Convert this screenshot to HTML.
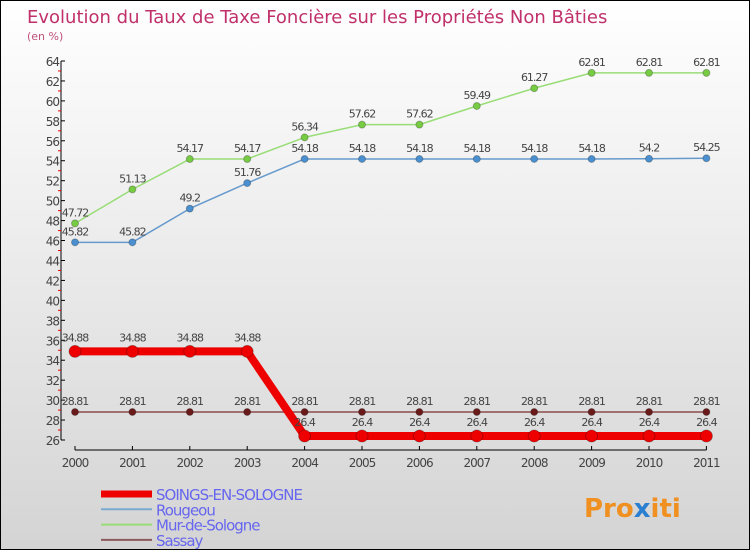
<!DOCTYPE html>
<html><head><meta charset="utf-8"><style>
body{margin:0}
#wrap{position:relative;width:748px;height:548px;border:1px solid #000;background:linear-gradient(#ffffff,#d4d4d4);overflow:hidden;font-family:"DejaVu Sans","Liberation Sans",sans-serif}
</style></head><body>
<div id="wrap">
<svg id="chart" width="748" height="548"></svg>
</div>
<script>
const years=['2000','2001','2002','2003','2004','2005','2006','2007','2008','2009','2010','2011'];
const soings=[34.88,34.88,34.88,34.88,26.4,26.4,26.4,26.4,26.4,26.4,26.4,26.4];
const rougeou=[45.82,45.82,49.2,51.76,54.18,54.18,54.18,54.18,54.18,54.18,54.2,54.25];
const mur=[47.72,51.13,54.17,54.17,56.34,57.62,57.62,59.49,61.27,62.81,62.81,62.81];
const sassay=[28.81,28.81,28.81,28.81,28.81,28.81,28.81,28.81,28.81,28.81,28.81,28.81];
const yTicks=[26,28,30,32,34,36,38,40,42,44,46,48,50,52,54,56,58,60,62,64];
const NS='http://www.w3.org/2000/svg';
const svg=document.getElementById('chart');
function yS(v){return 439-(v-26)*(379/38);}
function xS(i){return 74+i*57.4;}
function el(tag,attrs,parent){const e=document.createElementNS(NS,tag);for(const k in attrs)e.setAttribute(k,attrs[k]);(parent||svg).appendChild(e);return e;}
function txt(x,y,s,attrs){const t=el('text',Object.assign({x:x,y:y},attrs||{}));t.textContent=s;return t;}
// title
let t=txt(26,22,'Evolution du Taux de Taxe Foncière sur les Propriétés Non Bâties',{fill:'#c0306a','font-size':'18'});


t=txt(26,39,'(en %)',{fill:'#c0507a','font-size':'11'});


// y axis
let a=el('line',{x1:60,y1:yS(64),x2:60,y2:yS(26),stroke:'#000','stroke-width':1});


yTicks.forEach((v,i)=>{
  el('line',{x1:60,y1:yS(v),x2:64,y2:yS(v),stroke:'#000'});
  if(i<yTicks.length-1)el('line',{x1:57,y1:yS(v+1),x2:60,y2:yS(v+1),stroke:'#e00'});
  const l=txt(58,yS(v)+5,String(v),{fill:'#444','font-size':'12','text-anchor':'end','letter-spacing':'-1'});
  
  
});
// x axis
a=el('line',{x1:74,y1:449,x2:xS(11),y2:449,stroke:'#000'});


years.forEach((y,i)=>{
  el('line',{x1:xS(i),y1:445,x2:xS(i),y2:449,stroke:'#000'});
  const l=txt(xS(i),466,y,{fill:'#444','font-size':'12','text-anchor':'middle','letter-spacing':'-1'});
  
  
});
function series(vals,color,w,r,name,dotColor,labelDy){
  const g=el('g',{});
  
  
  el('polyline',{points:vals.map((v,i)=>xS(i)+','+yS(v)).join(' '),fill:'none',stroke:color,'stroke-width':w,'stroke-linejoin':'round'},g);
  vals.forEach((v,i)=>{
    const c=el('circle',{cx:xS(i),cy:yS(v),r:r,fill:dotColor,stroke:'#00000040'},g);
    
    
    const l=txt(xS(i),yS(v)+labelDy,String(v),{fill:'#444','font-size':'11','text-anchor':'middle','letter-spacing':'-1'},);
    g.appendChild(l);
    
    
  });
}
series(sassay,'#8b4a4a',1.5,3.5,'sassay','#6b1a1a',-7);
series(rougeou,'#6699cc',1.5,3.5,'rougeou','#4a90d0',-7);
series(mur,'#99dd77',1.5,3.5,'mur-de-sologne','#77cc44',-7);
series(soings,'#ee0000',8,6,'soings-en-sologne','#ee0000',-10);
// legend
const leg=[['SOINGS-EN-SOLOGNE','#ee0000',7],['Rougeou','#7aaad0',2],['Mur-de-Sologne','#99dd77',2],['Sassay','#8b5a5a',2]];
leg.forEach((d,i)=>{
  const y=493+i*15.3;
  const g=el('g',{});
  
  
  el('line',{x1:100,y1:y,x2:151,y2:y,stroke:d[1],'stroke-width':d[2]},g);
  const l=txt(155,y+6,d[0],{fill:'#6666ee','font-size':'15','letter-spacing':'-1'});
  g.appendChild(l);
});
// logo
const lg=txt(583,516,'Pro',{fill:'#f09020','font-size':'26','font-weight':'bold'});


const ts=el('tspan',{fill:'#2a7fd0'},lg);ts.textContent='x';
const ts2=el('tspan',{fill:'#f09020'},lg);ts2.textContent='iti';
</script>
</body></html>
